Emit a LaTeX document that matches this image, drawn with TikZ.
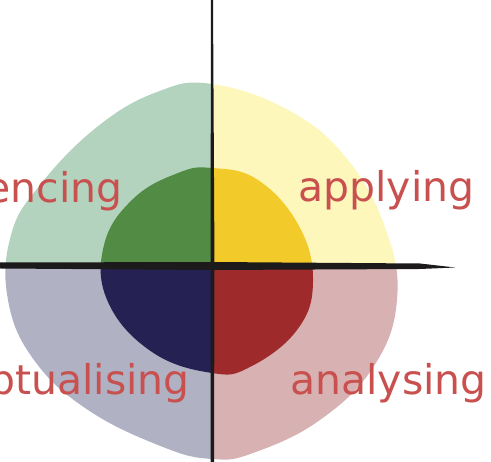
\documentclass[tikz,border=0pt]{standalone}
\usepackage{fontspec}
\setmainfont{DejaVu Sans}
\definecolor{palegreen}{HTML}{B3D3BF}
\definecolor{paleyellow}{HTML}{FDF7BC}
\definecolor{palegrey}{HTML}{B0B1C3}
\definecolor{palered}{HTML}{D8B2B2}
\definecolor{deepgreen}{HTML}{528B44}
\definecolor{deepyellow}{HTML}{F2CA2A}
\definecolor{deepblue}{HTML}{252152}
\definecolor{deepred}{HTML}{9E2A2B}
\definecolor{labelred}{HTML}{C8504E}
\definecolor{axisblack}{HTML}{1C1A1A}
\tikzset{
  outerblob/.style={insert path={plot[smooth cycle,tension=0.7] coordinates {(212,84) (290,111) (348,160) (386,230) (397,300) (374,366) (320,420) (253,453) (212,459) (163,447) (88,410) (34,360) (8,300) (11,235) (40,185) (97,127) (157,92)}}},
  innerblob/.style={insert path={plot[smooth cycle,tension=0.7] coordinates {(212,168) (258,180) (299,226) (313,282) (297,330) (250,367) (212,373) (152,352) (108,302) (104,245) (133,199) (178,173)}}},
  label/.style={text=labelred,font=\fontsize{23.3}{28}\selectfont,inner sep=0}
}

\begin{document}
\begin{tikzpicture}[x=0.02cm,y=-0.02cm]
  \useasboundingbox (0,0) rectangle (491,462);
  % quadrants, clipped from the two blobs
  \foreach \xa/\ya/\xb/\yb/\outer/\inner in {0/0/212/266/palegreen/deepgreen, 212/0/491/266/paleyellow/deepyellow, 0/266/212/462/palegrey/deepblue, 212/266/491/462/palered/deepred}{
    \begin{scope}
      \clip (\xa,\ya) rectangle (\xb,\yb);
      \fill[\outer] [outerblob];
      \fill[\inner] [innerblob];
    \end{scope}
  }
  % axes
  \fill[axisblack] (211,0) -- (213,0) -- (214.5,266) -- (214,462) -- (210.5,462) -- (210.5,266) -- cycle;
  \fill[axisblack] (0,262.5) -- (212,262) -- (420,263.5) -- (455,267.5) -- (420,269) -- (212,270) -- (0,268.5) -- cycle;
  % labels
  \node[label,anchor=base east] (exp) at (123,203) {experiencing};
  \node[label,anchor=base west] (app) at (298,202) {applying};
  \node[label,anchor=base east] (con) at (190,395) {conceptualising};
  \node[label,anchor=base west] (ana) at (290,395) {analysing};
\end{tikzpicture}
\end{document}
